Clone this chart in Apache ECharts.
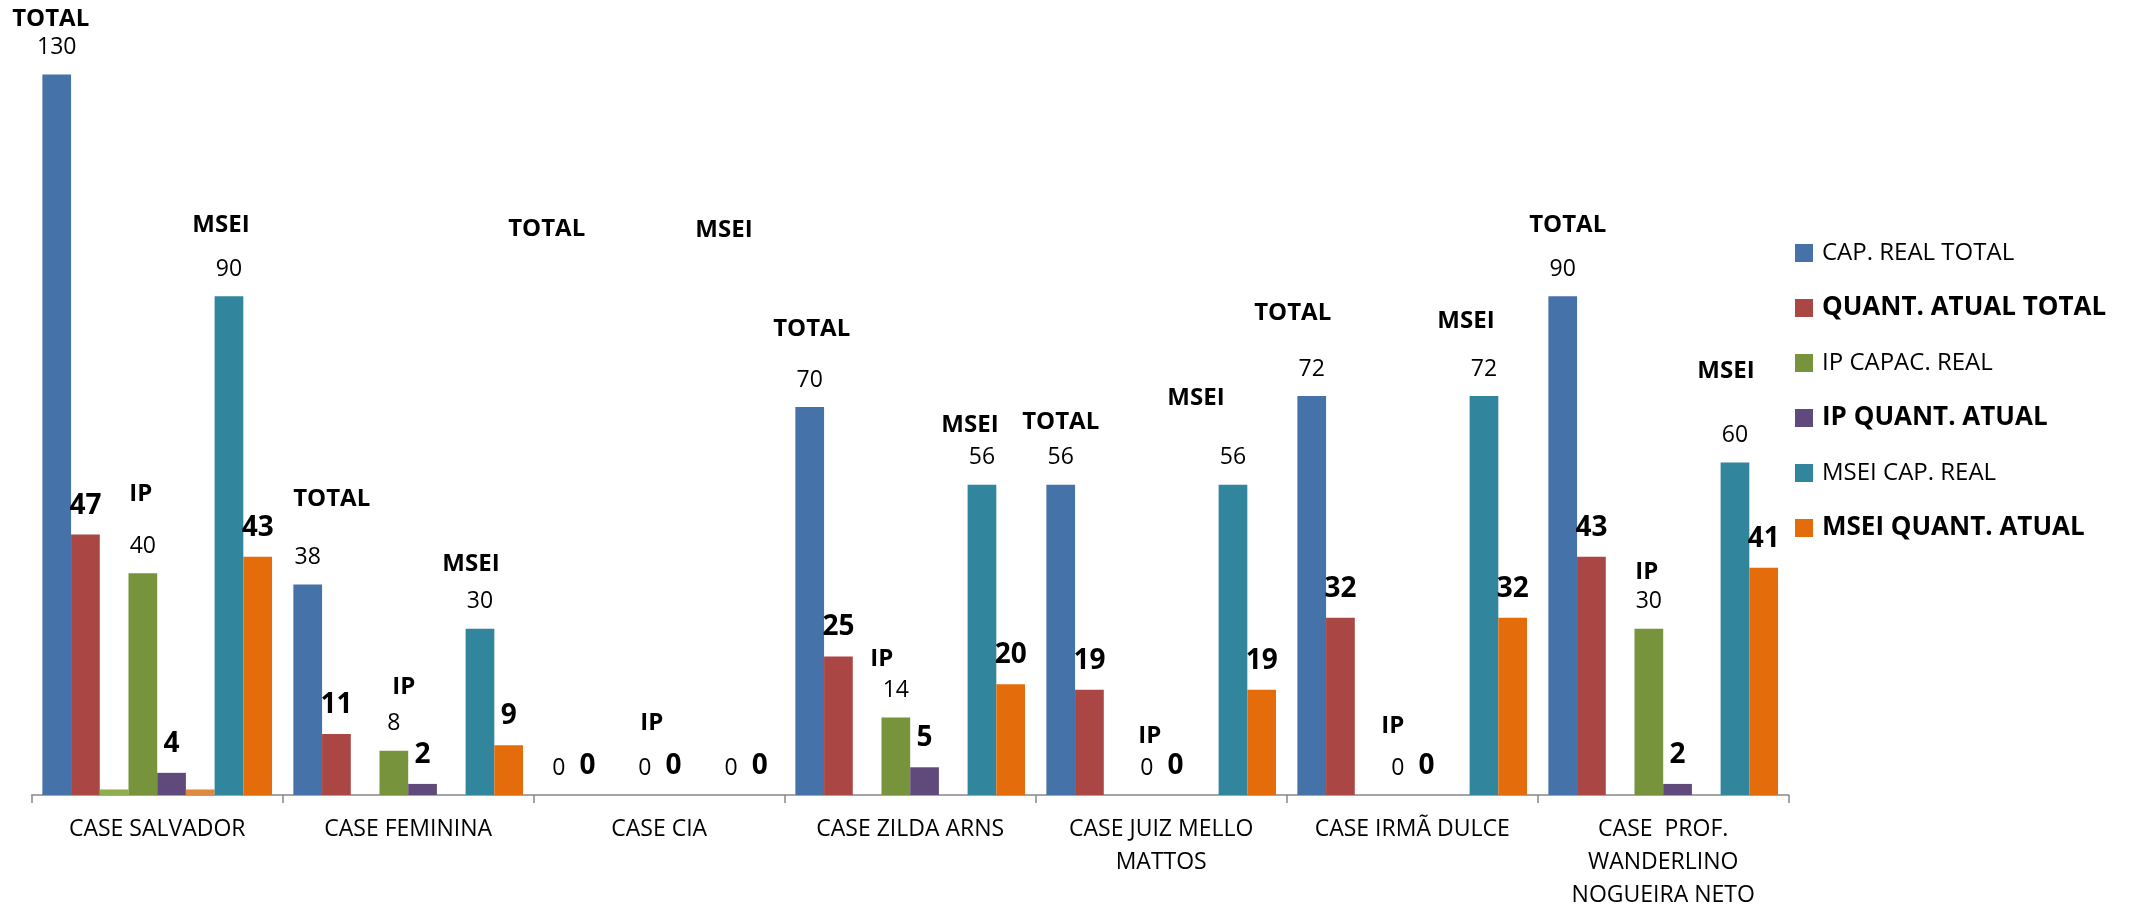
<!DOCTYPE html>
<html><head><meta charset="utf-8">
<script src="https://cdn.jsdelivr.net/npm/echarts@6/dist/echarts.min.js"></script>
<style>html,body{margin:0;padding:0;background:#fff}#c{width:2136px;height:912px}</style>
</head><body><div id="c"></div>
<script>
// ---- data ----
const categories = ['CASE SALVADOR','CASE FEMININA','CASE CIA','CASE ZILDA ARNS','CASE JUIZ MELLO\nMATTOS','CASE IRMÃ DULCE','CASE  PROF.\nWANDERLINO\nNOGUEIRA NETO'];
const seriesNames = ['CAP. REAL TOTAL','QUANT. ATUAL TOTAL','aux1','IP CAPAC. REAL','IP QUANT. ATUAL','aux2','MSEI CAP. REAL','MSEI QUANT. ATUAL'];
const capRealTotal   = [130, 38, 0, 70, 56, 72, 90];
const quantAtualTotal= [47, 11, 0, 25, 19, 32, 43];
const aux1           = [1, 0, 0, 0, 0, 0, 0];
const ipCapacReal    = [40, 8, 0, 14, 0, 0, 30];
const ipQuantAtual   = [4, 2, 0, 5, 0, 0, 2];
const aux2           = [1, 0, 0, 0, 0, 0, 0];
const mseiCapReal    = [90, 30, 0, 56, 56, 72, 60];
const mseiQuantAtual = [43, 9, 0, 20, 19, 32, 41];
// group tag texts and their heights (in value units)
const tagTexts = ['TOTAL','IP','MSEI'];
const totalTagHeights = [140, 53.3, 102.2, 84.1, 67.2, 87.0, 102.9];
const ipTagHeights    = [54.2, 19.4, 12.9, 24.6, 10.6, 12.4, 40.3];
const mseiTagHeights  = [102.9, 41.6, 102.0, 66.7, 71.7, 85.5, 76.4];

// ---- styling ----
const FONT = "'Open Sans', 'Noto Sans', sans-serif";
const colors = ['#4572A8','#AA4644','#8EAE4E','#77933C','#604A7B','#E0883E','#31859C','#E46C0A'];
const totalTagDx = [-6, 24, -12, 2, 0, -19, 5];
const ipTagDx    = [-2, 10, 7, -14, 3, -5, -2];
const mseiTagDx  = [-8, -9, -7, -12, -37, -18, -9];

const values = [capRealTotal, quantAtualTotal, aux1, ipCapacReal, ipQuantAtual, aux2, mseiCapReal, mseiQuantAtual];
const labelKind = ['normal','bold',null,'normal','bold',null,'normal','bold'];

function tagMarks(text, heights, dx) {
  return {
    symbol: 'circle', symbolSize: 1, silent: true, animation: false,
    itemStyle: { color: 'rgba(0,0,0,0)' },
    label: { show: true, position: 'inside', color: '#000', fontFamily: FONT, fontWeight: 'bold', fontSize: 24 },
    data: heights.map((h, i) => ({ coord: [i, h], label: { formatter: text, offset: [dx[i], 0] } }))
  };
}

const series = values.map((v, i) => {
  const k = labelKind[i];
  const s = {
    name: seriesNames[i], type: 'bar', data: v,
    barGap: '0%', barCategoryGap: '8.5%',
    itemStyle: { color: colors[i] },
    label: k ? {
      show: true, position: 'top', distance: 15, color: '#000', fontFamily: FONT,
      fontWeight: k === 'bold' ? 'bold' : 'normal',
      fontSize: k === 'bold' ? 28 : 23, lineHeight: k === 'bold' ? 28 : 24
    } : { show: false }
  };
  if (i === 0) s.markPoint = tagMarks(tagTexts[0], totalTagHeights, totalTagDx);
  if (i === 3) s.markPoint = tagMarks(tagTexts[1], ipTagHeights, ipTagDx);
  if (i === 6) s.markPoint = tagMarks(tagTexts[2], mseiTagHeights, mseiTagDx);
  return s;
});

const legendData = [0,1,3,4,6,7].map(i => ({
  name: seriesNames[i],
  textStyle: labelKind[i] === 'bold' ? { fontWeight: 'bold', fontSize: 26 } : { fontWeight: 'normal', fontSize: 24 }
}));

const chart = echarts.init(document.getElementById('c'), null, { renderer: 'canvas' });
chart.setOption({
  animation: false,
  backgroundColor: '#ffffff',
  grid: { left: 31.7, right: 347.3, top: 19.2, bottom: 112, containLabel: false },
  legend: {
    orient: 'vertical', left: 1795, top: 238, padding: 0,
    itemWidth: 18, itemHeight: 18, itemGap: 25, icon: 'rect',
    textStyle: { color: '#000', fontFamily: FONT, fontSize: 24, lineHeight: 30, padding: [0,0,0,4] },
    data: legendData
  },
  xAxis: {
    type: 'category', data: categories,
    axisLine: { show: true, lineStyle: { color: '#888', width: 1.5 } },
    axisTick: { show: true, length: 8, lineStyle: { color: '#888', width: 1.5 } },
    axisLabel: { color: '#000', fontFamily: FONT, fontSize: 23, lineHeight: 33, margin: 18, interval: 0 }
  },
  yAxis: { type: 'value', min: 0, max: 140, show: false, splitLine: { show: false } },
  series: series
});
</script>
</body></html>
